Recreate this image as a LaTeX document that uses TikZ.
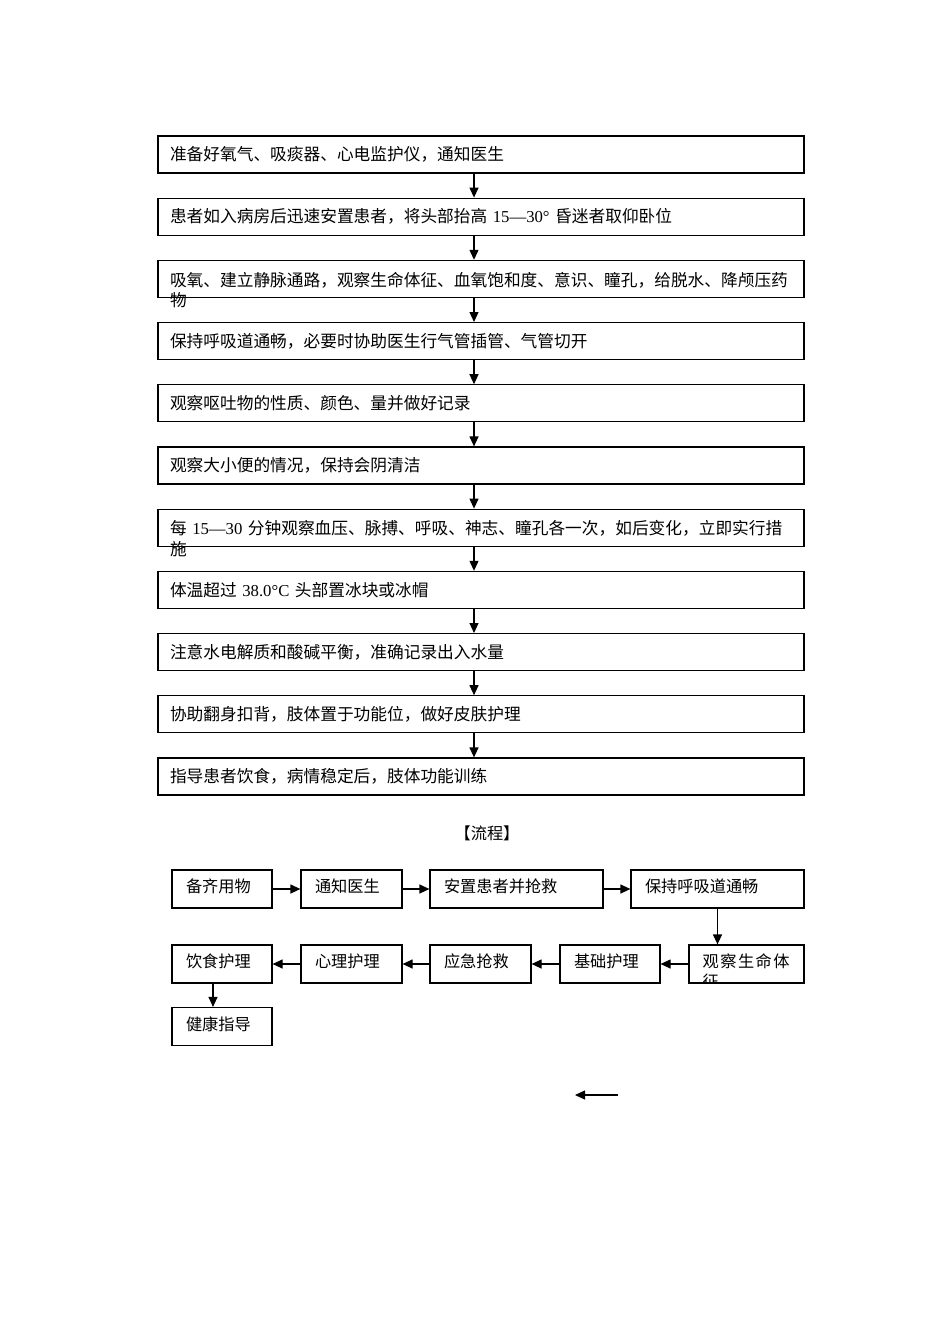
\documentclass[tikz,border=0pt]{standalone}
\usepackage{fontspec}
\setmainfont{Liberation Serif}
\newfontfamily\cjk{Noto Sans CJK SC}
\usetikzlibrary{arrows.meta,positioning}
\newcommand{\lat}[1]{{\rmfamily #1}}
\newcommand{\overrun}[2]{\raisebox{0pt}[\height][0pt]{\parbox[t]{622pt}{#1\\#2}}}
\tikzset{
  flowbox/.style={draw, line width=1.2pt, minimum width=646pt, minimum height=37pt,
    text width=622pt, inner xsep=12pt, align=left,
    font=\cjk\fontsize{16.7pt}{20.5pt}\selectfont},
  smallbox/.style={draw, line width=1.2pt, minimum height=38pt, inner xsep=14pt,
    align=left, text depth=6pt, font=\cjk\fontsize{16.2pt}{20pt}\selectfont},
  link/.style={line width=1.2pt, -{Triangle[length=10pt,width=9pt]}}
}
\begin{document}
\begin{tikzpicture}[x=1pt,y=-1pt]
  \useasboundingbox (0,0) rectangle (950,1344);
  % main sequence
  \node[flowbox] (b1) at (481,154.5) {准备好氧气、吸痰器、心电监护仪，通知医生};
  \node[flowbox] (b2) at (481,216.7) {患者如入病房后迅速安置患者，将头部抬高 \lat{15—30°} 昏迷者取仰卧位};
  \node[flowbox] (b3) at (481,278.9) {\overrun{吸氧、建立静脉通路，观察生命体征、血氧饱和度、意识、瞳孔，给脱水、降颅压药}{物}};
  \node[flowbox] (b4) at (481,341.1) {保持呼吸道通畅，必要时协助医生行气管插管、气管切开};
  \node[flowbox] (b5) at (481,403.3) {观察呕吐物的性质、颜色、量并做好记录};
  \node[flowbox] (b6) at (481,465.5) {观察大小便的情况，保持会阴清洁};
  \node[flowbox] (b7) at (481,527.7) {\overrun{每 \lat{15—30} 分钟观察血压、脉搏、呼吸、神志、瞳孔各一次，如后变化，立即实行措}{施}};
  \node[flowbox] (b8) at (481,589.9) {体温超过 \lat{38.0°C} 头部置冰块或冰帽};
  \node[flowbox] (b9) at (481,652.1) {注意水电解质和酸碱平衡，准确记录出入水量};
  \node[flowbox] (b10) at (481,714.3) {协助翻身扣背，肢体置于功能位，做好皮肤护理};
  \node[flowbox] (b11) at (481,776.5) {指导患者饮食，病情稳定后，肢体功能训练};
  \begin{scope}[link]
    \draw ([xshift=-7pt]b1.south) -- ([xshift=-7pt]b2.north);
    \draw ([xshift=-7pt]b2.south) -- ([xshift=-7pt]b3.north);
    \draw ([xshift=-7pt]b3.south) -- ([xshift=-7pt]b4.north);
    \draw ([xshift=-7pt]b4.south) -- ([xshift=-7pt]b5.north);
    \draw ([xshift=-7pt]b5.south) -- ([xshift=-7pt]b6.north);
    \draw ([xshift=-7pt]b6.south) -- ([xshift=-7pt]b7.north);
    \draw ([xshift=-7pt]b7.south) -- ([xshift=-7pt]b8.north);
    \draw ([xshift=-7pt]b8.south) -- ([xshift=-7pt]b9.north);
    \draw ([xshift=-7pt]b9.south) -- ([xshift=-7pt]b10.north);
    \draw ([xshift=-7pt]b10.south) -- ([xshift=-7pt]b11.north);
  \end{scope}
  % short flow
  \node[font=\cjk\fontsize{16.2pt}{20pt}\selectfont] (title) at (487,833) {【流程】};
  \node[smallbox, minimum width=100pt, text width=72pt] (prep) at (222,889) {备齐用物};
  \node[smallbox, minimum width=101pt, text width=73pt] (call) at (351.5,889) {通知医生};
  \node[smallbox, minimum width=173pt, text width=145pt] (settle) at (516.5,889) {安置患者并抢救};
  \node[smallbox, minimum width=173pt, text width=145pt] (airway) at (717.5,889) {保持呼吸道通畅};
  \node[smallbox, minimum width=115pt, text width=87pt] (vital) at (746.5,964) {};
  \begin{scope}
    \clip (vital.north west) rectangle (vital.south east);
    \node[anchor=north west, inner sep=0pt, align=left,
      font=\cjk\fontsize{16.2pt}{20pt}\selectfont] (vitaltext)
      at ([xshift=14pt,yshift=-9pt]vital.north west)
      {观\hspace{1.5pt}察\hspace{1.5pt}生\hspace{1.5pt}命\hspace{1.5pt}体\\征};
  \end{scope}
  \node[smallbox, minimum width=100pt, text width=72pt] (basic) at (610,964) {基础护理};
  \node[smallbox, minimum width=101pt, text width=73pt] (rescue) at (480.5,964) {应急抢救};
  \node[smallbox, minimum width=101pt, text width=73pt] (mind) at (351.5,964) {心理护理};
  \node[smallbox, minimum width=100pt, text width=72pt] (diet) at (222,964) {饮食护理};
  \node[smallbox, minimum width=100pt, text width=72pt] (health) at (222,1026.5) {健康指导};
  \coordinate (tailA) at (618,1095);
  \coordinate (tailB) at (575,1095);
  \begin{scope}[link]
    \draw (prep) -- (call);
    \draw (call) -- (settle);
    \draw (settle) -- (airway);
    \draw (airway.south) -- (airway.south |- vital.north);
    \draw (vital) -- (basic);
    \draw (basic) -- (rescue);
    \draw (rescue) -- (mind);
    \draw (mind) -- (diet);
    \draw ([xshift=-9pt]diet.south) -- ([xshift=-9pt]health.north);
    \draw (tailA) -- (tailB);
  \end{scope}
\end{tikzpicture}
\end{document}
